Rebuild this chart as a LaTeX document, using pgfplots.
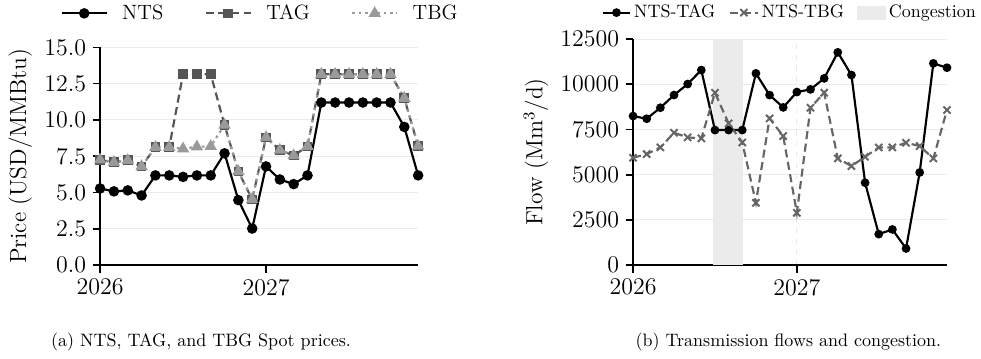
\documentclass[border=0pt]{standalone}
\usepackage{fontspec}
\usepackage{pgfplots}
\pgfplotsset{compat=1.18}
\definecolor{tagc}{HTML}{555555}
\definecolor{tbgc}{HTML}{9A9A9A}
\definecolor{flowtbg}{HTML}{666666}
\definecolor{gridc}{HTML}{EBEBEB}
\definecolor{cong}{HTML}{EBEBEB}
\begin{document}
\begin{tikzpicture}
\useasboundingbox (0,0) rectangle (545pt,199pt);
\pgfplotsset{
 mystyle/.style={
  scale only axis,
  anchor=south west,
  axis x line*=bottom, axis y line*=left,
  axis line style={line width=0.9pt, black},
  every tick/.style={line width=0.9pt, black},
  tick align=outside,
  major tick length=4.2pt,
  xmin=0, xmax=23,
  xtick={0,12}, xticklabels={2026,2027},
  ymajorgrids,
  major y grid style={line width=0.5pt, gridc},
  tick label style={font=\fontsize{13.3}{15}\selectfont},
  label style={font=\fontsize{13}{15}\selectfont},
  /pgf/number format/assume math mode=true,
  scaled y ticks=false,
 }
}
\begin{axis}[mystyle, at={(55.6pt,51.7pt)}, width=176.7pt, height=121pt,
  ymin=0, ymax=15, ytick={0,2.5,5,7.5,10,12.5,15},
  /pgf/number format/fixed, /pgf/number format/fixed zerofill, /pgf/number format/precision=1,
  ylabel={Price (USD/MMBtu)},
  legend columns=3,
  legend image code/.code={\draw[mark repeat=2,mark phase=2,#1] plot coordinates {(0pt,0pt)(12.5pt,0pt)(25pt,0pt)};},
  legend style={draw=none, fill=none, at={(0.5,1.156)}, anchor=center,
    font=\fontsize{11.5}{13}\selectfont, nodes={inner xsep=0pt},
    /tikz/every odd column/.append style={column sep=8pt},
    /tikz/every even column/.append style={column sep=23pt}},
]
\addplot[black, line width=1.2pt, mark=*, mark size=2.3pt] coordinates {
(0,5.28)(1,5.08)(2,5.15)(3,4.80)(4,6.18)(5,6.18)(6,6.08)(7,6.18)(8,6.18)(9,7.70)(10,4.48)(11,2.52)
(12,6.80)(13,5.90)(14,5.58)(15,6.18)(16,11.2)(17,11.2)(18,11.2)(19,11.2)(20,11.2)(21,11.2)(22,9.52)(23,6.18)};
\addlegendentry{NTS}
\addplot[tagc, line width=1.2pt, dash pattern=on 4.5pt off 2.5pt, mark=square*, mark size=2.1pt, mark options={solid}] coordinates {
(0,7.25)(1,7.08)(2,7.22)(3,6.80)(4,8.12)(5,8.12)(6,13.15)(7,13.15)(8,13.15)(9,9.65)(10,6.45)(11,4.53)
(12,8.80)(13,7.92)(14,7.55)(15,8.18)(16,13.15)(17,13.15)(18,13.15)(19,13.15)(20,13.15)(21,13.15)(22,11.5)(23,8.2)};
\addlegendentry{TAG}
\addplot[tbgc, line width=1.2pt, dash pattern=on 1.5pt off 2pt, mark=triangle*, mark size=2.8pt, mark options={solid}] coordinates {
(0,7.25)(1,7.08)(2,7.22)(3,6.80)(4,8.12)(5,8.12)(6,8.02)(7,8.15)(8,8.18)(9,9.65)(10,6.45)(11,4.53)
(12,8.80)(13,7.92)(14,7.55)(15,8.18)(16,13.15)(17,13.15)(18,13.15)(19,13.15)(20,13.15)(21,13.15)(22,11.5)(23,8.2)};
\addlegendentry{TBG}
\end{axis}

\begin{axis}[mystyle, at={(351.7pt,51.7pt)}, width=174.4pt, height=125.6pt,
  ymin=0, ymax=12500, ytick={0,2500,5000,7500,10000,12500},
  /pgf/number format/1000 sep={},
  ylabel={Flow (Mm\textsuperscript{3}/d)},
  xmajorgrids, major x grid style={dashed, gridc, line width=0.5pt},
  legend columns=3,
  legend image code/.code={\draw[mark repeat=2,mark phase=2,#1] plot coordinates {(0pt,0pt)(7.75pt,0pt)(15.5pt,0pt)};},
  legend style={draw=none, fill=none, at={(0.5,1.117)}, anchor=center,
    font=\fontsize{10}{12}\selectfont, nodes={inner xsep=1.5pt},
    /tikz/every even column/.append style={column sep=6pt}},
]
\addplot[fill=cong, draw=none, forget plot] coordinates {(5.87,12500)(8.07,12500)} \closedcycle;
\addplot[black, line width=1.2pt, mark=*, mark size=1.8pt] coordinates {
(0,8243)(1,8095)(2,8704)(3,9404)(4,10013)(5,10787)(6,7468)(7,7468)(8,7468)(9,10603)(10,9404)(11,8722)
(12,9570)(13,9718)(14,10326)(15,11765)(16,10511)(17,4555)(18,1715)(19,1973)(20,922)(21,5126)(22,11156)(23,10916)};
\addlegendentry{NTS-TAG}
\addplot[flowtbg, line width=1.2pt, dash pattern=on 4.5pt off 2.5pt, mark=x, mark size=2.8pt, mark options={solid, line width=1.1pt}] coordinates {
(0,5938)(1,6140)(2,6509)(3,7321)(4,7063)(5,7007)(6,9533)(7,7837)(8,6786)(9,3448)(10,8113)(11,7136)
(12,2895)(13,8704)(14,9533)(15,5901)(16,5477)(17,5993)(18,6509)(19,6509)(20,6767)(21,6583)(22,5901)(23,8575)};
\addlegendentry{NTS-TBG}
\addlegendimage{legend image code/.code={\fill[cong] (0pt,-3.7pt) rectangle (15.5pt,3.7pt);}}
\addlegendentry{Congestion}
\end{axis}

\node[anchor=base, font=\fontsize{10}{12}\selectfont] at (111.7pt,6.7pt) {(a) NTS, TAG, and TBG Spot prices.};
\node[anchor=base, font=\fontsize{10}{12}\selectfont] at (438pt,6.7pt) {(b) Transmission flows and congestion.};
\end{tikzpicture}
\end{document}
